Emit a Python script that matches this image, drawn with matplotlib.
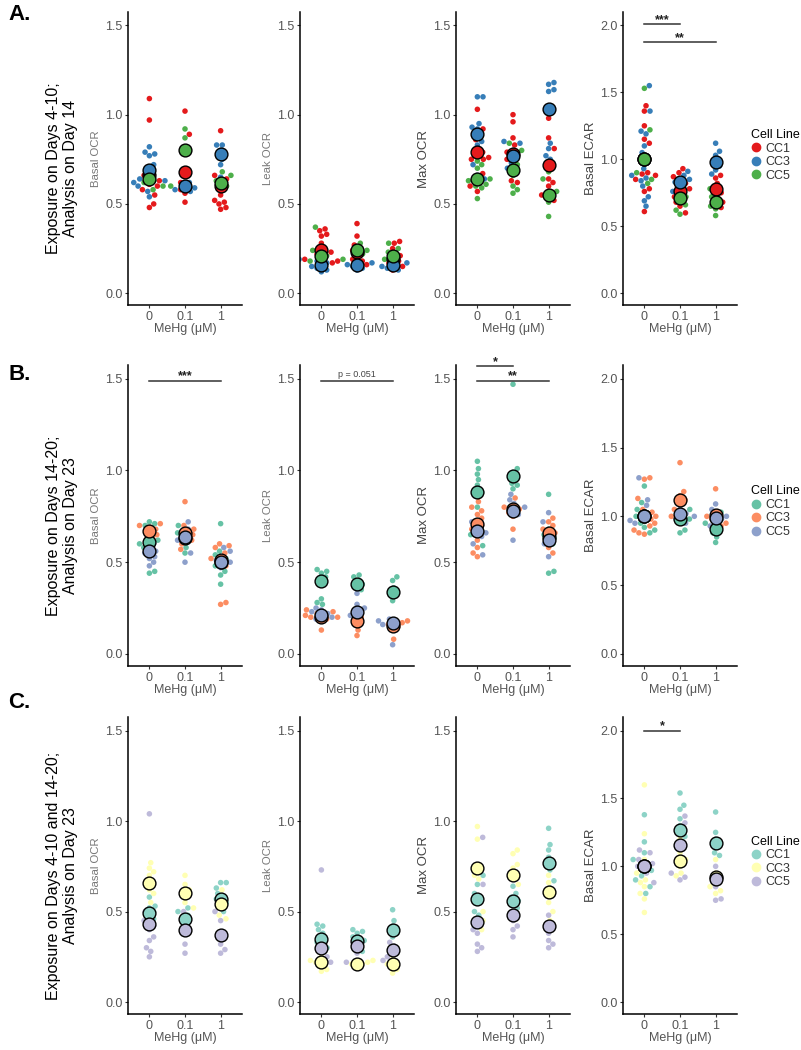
import numpy as np
import matplotlib
matplotlib.use("Agg")
import matplotlib.pyplot as plt
from matplotlib.lines import Line2D

plt.rcParams['font.family'] = ['Liberation Sans', 'DejaVu Sans']

doses = ['0', '0.1', '1']
lines = ['CC1', 'CC3', 'CC5']

# colours per row
pal_a = ['#E41A1C', '#377EB8', '#4DAF4A']
pal_b = ['#66C2A5', '#FC8D62', '#8DA0CB']
pal_c = ['#8DD3C7', '#FFFFB3', '#BEBADA']

# ---- row A: exposure days 4-10, analysis day 14 ----
a_basal = {
    'CC1': [[1.09, 0.97, 0.66, 0.63, 0.61, 0.60, 0.58, 0.55, 0.50, 0.48],
            [1.02, 0.89, 0.68, 0.62, 0.58, 0.56, 0.51],
            [0.91, 0.66, 0.64, 0.60, 0.58, 0.55, 0.52, 0.51, 0.50, 0.48, 0.47]],
    'CC3': [[0.82, 0.79, 0.78, 0.77, 0.72, 0.70, 0.64, 0.63, 0.62, 0.60, 0.57, 0.54],
            [0.62, 0.60, 0.59, 0.58, 0.57],
            [0.83, 0.83, 0.80, 0.77, 0.75, 0.72, 0.65]],
    'CC5': [[0.65, 0.63, 0.62, 0.60, 0.58],
            [0.92, 0.87, 0.80, 0.78, 0.60],
            [0.68, 0.66, 0.63, 0.62, 0.60]],
}
a_basal_mean = {'CC1': [0.66, 0.68, 0.60], 'CC3': [0.69, 0.60, 0.78], 'CC5': [0.64, 0.80, 0.62]}

a_leak = {
    'CC1': [[0.36, 0.35, 0.33, 0.32, 0.28, 0.24, 0.23, 0.22, 0.19, 0.18, 0.17],
            [0.39, 0.32, 0.27, 0.24, 0.22, 0.19, 0.18, 0.17, 0.16],
            [0.29, 0.28, 0.25, 0.21, 0.18, 0.17, 0.15, 0.13]],
    'CC3': [[0.19, 0.18, 0.17, 0.16, 0.15, 0.14, 0.13, 0.12],
            [0.17, 0.16, 0.15, 0.14, 0.13],
            [0.17, 0.16, 0.15, 0.14, 0.13]],
    'CC5': [[0.37, 0.24, 0.21, 0.20, 0.19, 0.18],
            [0.28, 0.25, 0.24, 0.22],
            [0.28, 0.25, 0.23, 0.21, 0.19]],
}
a_leak_mean = {'CC1': [0.24, 0.23, 0.19], 'CC3': [0.16, 0.16, 0.16], 'CC5': [0.21, 0.24, 0.21]}

a_max = {
    'CC1': [[1.03, 0.92, 0.86, 0.79, 0.76, 0.75, 0.75, 0.67, 0.63, 0.60, 0.57],
            [1.00, 0.96, 0.87, 0.83, 0.79, 0.78, 0.75, 0.70, 0.63, 0.62],
            [0.98, 0.87, 0.81, 0.72, 0.64, 0.62, 0.60, 0.55, 0.52]],
    'CC3': [[1.10, 1.10, 0.95, 0.93, 0.92, 0.88, 0.85, 0.83, 0.78, 0.72, 0.66, 0.64],
            [0.85, 0.84, 0.80, 0.77, 0.75, 0.73, 0.70, 0.68],
            [1.18, 1.17, 1.14, 1.13, 1.03, 0.84, 0.81, 0.77, 0.75]],
    'CC5': [[0.74, 0.72, 0.70, 0.64, 0.63, 0.62, 0.61, 0.60, 0.59, 0.53],
            [0.84, 0.80, 0.72, 0.66, 0.60, 0.58, 0.56],
            [0.68, 0.64, 0.57, 0.55, 0.54, 0.51, 0.43]],
}
a_max_mean = {'CC1': [0.79, 0.78, 0.72], 'CC3': [0.89, 0.77, 1.03], 'CC5': [0.64, 0.69, 0.55]}

a_ecar = {
    'CC1': [[1.40, 1.36, 1.25, 1.15, 1.12, 0.98, 0.90, 0.89, 0.88, 0.85, 0.78, 0.76, 0.61],
            [0.93, 0.90, 0.87, 0.82, 0.78, 0.75, 0.72, 0.68, 0.65, 0.60],
            [0.88, 0.86, 0.82, 0.78, 0.75, 0.72, 0.68, 0.64]],
    'CC3': [[1.55, 1.36, 1.21, 1.19, 1.10, 1.05, 0.93, 0.88, 0.86, 0.84, 0.80, 0.72, 0.69, 0.65],
            [0.91, 0.88, 0.85, 0.83, 0.80, 0.76],
            [1.12, 1.06, 1.03, 0.98, 0.95, 0.92, 0.89]],
    'CC5': [[1.53, 1.22, 1.02, 0.90, 0.85, 0.82],
            [0.85, 0.78, 0.72, 0.70, 0.66, 0.62, 0.59],
            [0.78, 0.72, 0.68, 0.65, 0.63, 0.58]],
}
a_ecar_mean = {'CC1': [1.00, 0.76, 0.78], 'CC3': [1.00, 0.83, 0.98], 'CC5': [1.00, 0.71, 0.68]}

# ---- row B: exposure days 14-20, analysis day 23 ----
b_basal = {
    'CC1': [[0.72, 0.71, 0.70, 0.62, 0.61, 0.60, 0.58, 0.55, 0.45, 0.44],
            [0.70, 0.66, 0.64, 0.62, 0.58, 0.55],
            [0.71, 0.56, 0.54, 0.52, 0.48, 0.45, 0.43, 0.38]],
    'CC3': [[0.71, 0.70, 0.69, 0.68, 0.67, 0.66, 0.65, 0.64, 0.63],
            [0.83, 0.70, 0.68, 0.67, 0.65, 0.62, 0.60, 0.57],
            [0.60, 0.59, 0.58, 0.55, 0.52, 0.50, 0.48, 0.28, 0.27]],
    'CC5': [[0.60, 0.58, 0.56, 0.55, 0.53, 0.52, 0.50, 0.48],
            [0.72, 0.68, 0.65, 0.62, 0.55, 0.50],
            [0.58, 0.56, 0.53, 0.51, 0.50, 0.47]],
}
b_basal_mean = {'CC1': [0.61, 0.63, 0.50], 'CC3': [0.67, 0.66, 0.51], 'CC5': [0.56, 0.64, 0.50]}

b_leak = {
    'CC1': [[0.46, 0.45, 0.44, 0.42, 0.40, 0.30, 0.28, 0.27],
            [0.43, 0.42, 0.40, 0.38, 0.37, 0.35],
            [0.42, 0.40, 0.36, 0.33, 0.29]],
    'CC3': [[0.24, 0.23, 0.22, 0.21, 0.21, 0.20, 0.20, 0.19, 0.18, 0.13],
            [0.23, 0.21, 0.20, 0.18, 0.13, 0.10],
            [0.18, 0.17, 0.16, 0.15, 0.14, 0.08]],
    'CC5': [[0.25, 0.24, 0.23, 0.22, 0.20, 0.19],
            [0.33, 0.27, 0.25, 0.24, 0.21],
            [0.19, 0.18, 0.17, 0.16, 0.05]],
}
b_leak_mean = {'CC1': [0.40, 0.38, 0.34], 'CC3': [0.20, 0.18, 0.15], 'CC5': [0.21, 0.23, 0.17]}

b_max = {
    'CC1': [[1.05, 1.01, 0.98, 0.95, 0.92, 0.88, 0.86, 0.80, 0.65, 0.59],
            [1.47, 1.01, 0.99, 0.93, 0.92, 0.90, 0.80, 0.78],
            [0.87, 0.68, 0.65, 0.63, 0.60, 0.45, 0.44]],
    'CC3': [[0.83, 0.80, 0.78, 0.76, 0.74, 0.72, 0.70, 0.68, 0.65, 0.62, 0.58, 0.55, 0.53],
            [0.85, 0.80, 0.79, 0.77, 0.75, 0.68],
            [0.74, 0.72, 0.70, 0.68, 0.66, 0.58, 0.55]],
    'CC5': [[0.72, 0.68, 0.66, 0.64, 0.60, 0.54],
            [0.87, 0.84, 0.82, 0.80, 0.76, 0.62],
            [0.77, 0.72, 0.65, 0.62, 0.60, 0.53]],
}
b_max_mean = {'CC1': [0.88, 0.97, 0.64], 'CC3': [0.71, 0.79, 0.66], 'CC5': [0.67, 0.78, 0.62]}

b_ecar = {
    'CC1': [[1.22, 1.10, 1.05, 1.00, 0.97, 0.95, 0.92, 0.90, 0.88],
            [1.05, 1.00, 0.98, 0.95, 0.90, 0.88],
            [1.03, 0.95, 0.92, 0.88, 0.85, 0.81]],
    'CC3': [[1.28, 1.27, 1.13, 1.05, 1.03, 1.00, 0.98, 0.95, 0.93, 0.90, 0.88, 0.87],
            [1.39, 1.18, 1.15, 1.12, 1.05, 1.00],
            [1.20, 1.02, 1.00, 0.98, 0.95, 0.93]],
    'CC5': [[1.28, 1.12, 1.08, 1.02, 1.00, 0.97, 0.95],
            [1.10, 1.05, 1.02, 1.00, 0.98, 0.95],
            [1.09, 1.05, 1.00, 0.98, 0.96, 0.93]],
}
b_ecar_mean = {'CC1': [1.00, 0.98, 0.91], 'CC3': [1.00, 1.12, 1.01], 'CC5': [1.00, 1.02, 0.99]}

# ---- row C: exposure days 4-10 and 14-20, analysis day 23 ----
c_basal = {
    'CC1': [[0.58, 0.53, 0.52, 0.50, 0.48, 0.46, 0.44],
            [0.52, 0.50, 0.48, 0.46, 0.43],
            [0.66, 0.66, 0.63, 0.60, 0.57, 0.55, 0.50]],
    'CC3': [[0.77, 0.74, 0.72, 0.70, 0.67, 0.65, 0.62, 0.60, 0.55],
            [0.70, 0.65, 0.62, 0.60, 0.55, 0.52],
            [0.62, 0.58, 0.55, 0.52, 0.48, 0.46]],
    'CC5': [[1.04, 0.50, 0.45, 0.42, 0.40, 0.36, 0.34, 0.30, 0.28, 0.25],
            [0.50, 0.45, 0.40, 0.38, 0.32, 0.27],
            [0.50, 0.45, 0.38, 0.32, 0.29, 0.27]],
}
c_basal_mean = {'CC1': [0.49, 0.46, 0.57], 'CC3': [0.66, 0.60, 0.54], 'CC5': [0.43, 0.40, 0.37]}

c_leak = {
    'CC1': [[0.43, 0.42, 0.40, 0.38, 0.35, 0.33, 0.32, 0.30],
            [0.40, 0.39, 0.38, 0.36, 0.34, 0.32, 0.28],
            [0.51, 0.45, 0.42, 0.38, 0.36]],
    'CC3': [[0.25, 0.23, 0.22, 0.21, 0.20, 0.18, 0.17],
            [0.23, 0.22, 0.21, 0.21, 0.20],
            [0.24, 0.22, 0.21, 0.20, 0.18, 0.16]],
    'CC5': [[0.73, 0.30, 0.28, 0.25, 0.22],
            [0.35, 0.33, 0.30, 0.27, 0.22],
            [0.33, 0.31, 0.28, 0.25, 0.23]],
}
c_leak_mean = {'CC1': [0.35, 0.34, 0.40], 'CC3': [0.22, 0.21, 0.21], 'CC5': [0.30, 0.31, 0.29]}

c_max = {
    'CC1': [[0.70, 0.65, 0.60, 0.58, 0.55, 0.50, 0.48],
            [0.64, 0.60, 0.58, 0.56, 0.52],
            [0.96, 0.87, 0.84, 0.80, 0.73, 0.67, 0.63]],
    'CC3': [[0.97, 0.90, 0.75, 0.72, 0.70, 0.68, 0.50, 0.45, 0.40],
            [0.84, 0.82, 0.76, 0.74, 0.70, 0.65],
            [0.70, 0.66, 0.60, 0.55, 0.50, 0.45]],
    'CC5': [[0.91, 0.65, 0.45, 0.40, 0.38, 0.32, 0.30, 0.28],
            [0.55, 0.50, 0.45, 0.42, 0.40, 0.36],
            [0.48, 0.42, 0.38, 0.34, 0.32, 0.30]],
}
c_max_mean = {'CC1': [0.57, 0.56, 0.77], 'CC3': [0.74, 0.70, 0.61], 'CC5': [0.44, 0.48, 0.42]}

c_ecar = {
    'CC1': [[1.38, 1.18, 1.10, 1.05, 1.00, 0.97, 0.93, 0.90, 0.85, 0.80],
            [1.54, 1.45, 1.42, 1.35, 1.30, 1.22],
            [1.40, 1.25, 1.20, 1.15, 1.10, 1.08]],
    'CC3': [[1.60, 1.24, 1.05, 0.95, 0.90, 0.88, 0.85, 0.80, 0.76, 0.66],
            [1.20, 1.10, 1.05, 1.00, 0.95, 0.93],
            [1.05, 0.95, 0.90, 0.85, 0.82, 0.80]],
    'CC5': [[1.12, 1.10, 1.05, 1.02, 1.00, 0.98, 0.95, 0.88],
            [1.37, 1.32, 1.25, 1.15, 1.05, 0.95, 0.92, 0.90],
            [1.00, 0.92, 0.88, 0.85, 0.76, 0.75]],
}
c_ecar_mean = {'CC1': [1.00, 1.27, 1.17], 'CC3': [1.00, 1.04, 0.92], 'CC5': [1.00, 1.16, 0.91]}

# significance bars: (group from, group to, y, label)
a_ecar_sig = [(0, 1, 2.01, '***'), (0, 2, 1.875, '**')]
b_basal_sig = [(0, 2, 1.49, '***')]
b_leak_sig = [(0, 2, 1.49, 'p = 0.051')]
b_max_sig = [(0, 1, 1.57, '*'), (0, 2, 1.49, '**')]
c_ecar_sig = [(0, 1, 2.0, '*')]

row_titles = ['Exposure on Days 4-10;\nAnalysis on Day 14',
              'Exposure on Days 14-20;\nAnalysis on Day 23',
              'Exposure on Days 4-10 and 14-20;\nAnalysis on Day 23']
row_tags = ['A.', 'B.', 'C.']
ylabels = ['Basal OCR', 'Leak OCR', 'Max OCR', 'Basal ECAR']

rows = [
    ([a_basal, a_leak, a_max, a_ecar],
     [a_basal_mean, a_leak_mean, a_max_mean, a_ecar_mean],
     [[], [], [], a_ecar_sig], pal_a),
    ([b_basal, b_leak, b_max, b_ecar],
     [b_basal_mean, b_leak_mean, b_max_mean, b_ecar_mean],
     [b_basal_sig, b_leak_sig, b_max_sig, []], pal_b),
    ([c_basal, c_leak, c_max, c_ecar],
     [c_basal_mean, c_leak_mean, c_max_mean, c_ecar_mean],
     [[], [], [], c_ecar_sig], pal_c),
]

W, H = 801, 1050
fig = plt.figure(figsize=(W / 100, H / 100), dpi=100)

col_left = [128, 300, 456, 623]
col_w = 114
row_box = [(12, 305), (365, 666), (717, 1014)]
tag_y = [14, 374, 702]
XPX = 35.5  # pixels per category step


def swarm(vals, ppu, d=5.6):
    # simple beeswarm: place points by rising value, nearest free spot to centre
    vals = np.asarray(vals)
    order = np.argsort(vals)
    placed = []
    offs = np.zeros(len(vals))
    for i in order:
        y = vals[i] * ppu
        cands = [0.0]
        for px, py in placed:
            dy = y - py
            if abs(dy) < d:
                dx = np.sqrt(d * d - dy * dy)
                cands += [px + dx, px - dx]
        cands.sort(key=abs)
        for c in cands:
            if all((c - px) ** 2 + (y - py) ** 2 >= d * d - 1e-6 for px, py in placed):
                break
        placed.append((c, y))
        offs[i] = c
    return offs / XPX


for r, (panels, means, sigs, pal) in enumerate(rows):
    top, bot = row_box[r]
    for c in range(4):
        ax = fig.add_axes([col_left[c] / W, 1 - bot / H, col_w / W, (bot - top) / H])
        ecar = (c == 3)
        ylim = (-0.088, 2.1) if ecar else (-0.066, 1.575)
        ppu = (bot - top) / (ylim[1] - ylim[0])
        data = panels[c]
        for g in range(3):
            vals, cols = [], []
            for k, cl in enumerate(lines):
                vals += data[cl][g]
                cols += [pal[k]] * len(data[cl][g])
            offs = swarm(vals, ppu)
            ax.scatter(g + offs, vals, s=16, c=cols, linewidths=0, zorder=2)
        for k, cl in enumerate(lines):
            ax.scatter(range(3), means[c][cl], s=85, color=pal[k],
                       edgecolors='black', linewidths=1.0, zorder=3)
        for g0, g1, yb, lab in sigs[c]:
            ax.plot([g0, g1], [yb, yb], color='#333333', lw=1.1, clip_on=False, zorder=4)
            if lab.startswith('p'):
                ax.annotate(lab, xy=((g0 + g1) / 2, yb), xytext=(0, 2.5),
                            textcoords='offset points', ha='center', va='baseline',
                            fontsize=6.5, color='#444444')
            else:
                ax.annotate(lab, xy=((g0 + g1) / 2, yb), xytext=(0, 0.8),
                            textcoords='offset points', ha='center', va='baseline',
                            fontsize=9, fontweight='bold', color='#222222')
        ax.set_xlim(-0.6, 2.6)
        ax.set_ylim(*ylim)
        ax.set_xticks(range(3))
        ax.set_xticklabels(doses)
        ax.set_yticks([0, 0.5, 1.0, 1.5, 2.0] if ecar else [0, 0.5, 1.0, 1.5])
        ax.yaxis.set_major_formatter(matplotlib.ticker.FormatStrFormatter('%.1f'))
        for s in ['top', 'right']:
            ax.spines[s].set_visible(False)
        for s in ['left', 'bottom']:
            ax.spines[s].set_linewidth(1.1)
        ax.tick_params(length=2.5, width=0.8, pad=1.5, labelsize=9, labelcolor='#555555',
                       color='#333333')
        ax.set_xlabel('MeHg (μM)', fontsize=9, color='#555555', labelpad=0)
        if c < 2:
            ax.set_ylabel(ylabels[c], fontsize=8.2, color='#777777', labelpad=3)
        else:
            ax.set_ylabel(ylabels[c], fontsize=9.5, color='#444444', labelpad=2)
        if c == 3:
            handles = [Line2D([], [], marker='o', ls='', ms=6, color=p, mec=p) for p in pal]
            ax.legend(handles, lines, title='Cell Line', loc='upper left',
                      bbox_to_anchor=(1.12, 0.60), frameon=False, borderpad=0,
                      borderaxespad=0, handlelength=0.8, handletextpad=0.4,
                      labelspacing=0.12, fontsize=9, title_fontsize=9,
                      alignment='left', labelcolor='#333333')
    fig.text(8 / W, 1 - tag_y[r] / H, row_tags[r], fontsize=16, fontweight='bold',
             ha='left', va='center')
    fig.text(62 / W, 1 - ((top + bot) / 2 + 10) / H, row_titles[r], fontsize=11.5,
             rotation=90, ha='center', va='center', multialignment='center')

fig.savefig('out.png', dpi=100)
